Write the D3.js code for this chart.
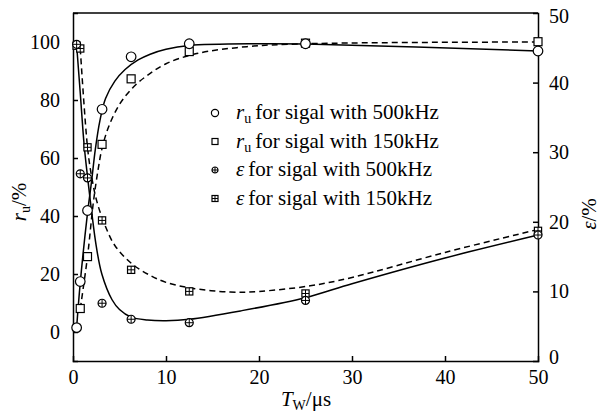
<!DOCTYPE html>
<html>
<head>
<meta charset="utf-8">
<script src="https://cdn.jsdelivr.net/npm/d3@7"></script>
</head>
<body style="margin:0">
<svg id="chart" width="607" height="415"></svg>
<script>
// measured points (x = T_W in µs)
const xPts = [0.39, 0.78, 1.56, 3.125, 6.25, 12.5, 25, 50];
const ru500 = [1.5, 17.4, 41.9, 76.8, 94.9, 99.4, 99.4, 96.9];
const ru150 = [null, 8.1, 26, 64.7, 87.3, 96.7, 99.6, 100.1];
const eps500 = [45.5, 26.9, 26.3, 8.3, 6.0, 5.5, 8.7, 18.1];
const eps150 = [45.3, 44.9, 30.7, 20.2, 13.1, 10.0, 9.7, 18.7];

// fitted curves
const fitRu500X = [0.39, 0.78, 1.56, 2.0, 2.4, 2.9, 3.5, 4.5, 5.6, 7, 8.3, 10, 12.5, 20, 25, 50];
const fitRu500Y = [1.5, 17, 41, 52, 63, 73, 80.5, 86.5, 90.5, 93.8, 95.8, 97.5, 98.8, 99.4, 99.3, 96.9];
const fitRu150X = [0.78, 1.56, 2.2, 2.7, 3.1, 3.8, 5, 6.5, 8, 10, 13.3, 18.7, 25, 50];
const fitRu150Y = [8, 26, 45, 56, 63, 70.5, 78.5, 84.5, 88.5, 92.5, 96, 98.4, 99.4, 100];
const fitEps500X = [0.39, 0.78, 1.2, 1.56, 2.0, 2.5, 3.1, 4.2, 5, 6.25, 8, 10, 12.5, 18, 25, 30, 40, 50];
const fitEps500Y = [45.4, 38.5, 31, 26.5, 21.5, 16.5, 12.5, 8.8, 7.4, 6.3, 5.9, 5.8, 6.0, 7.2, 9.1, 11.1, 14.8, 18.1];
const fitEps150X = [0.78, 1.56, 2.0, 2.55, 3.44, 4.5, 6.3, 8.3, 10, 12.6, 16.9, 20, 25.5, 30, 40, 50];
const fitEps150Y = [44.9, 30.7, 26.5, 23, 19.5, 16.6, 14.0, 12.3, 11.3, 10.5, 9.9, 10.0, 10.8, 12, 15.6, 18.9];

const xTicks = [0, 10, 20, 30, 40, 50];
const yLeftTicks = [0, 20, 40, 60, 80, 100];
const yRightTicks = [0, 10, 20, 30, 40, 50];
const legendLabels = ["for sigal with 500kHz", "for sigal with 150kHz", "for sigal with 500kHz", "for sigal with 150kHz"];

const FONT = '"Liberation Serif"';

const margin = { top: 13, right: 69, bottom: 54, left: 73 };
const width = 607 - margin.left - margin.right;
const height = 415 - margin.top - margin.bottom;

const svg = d3.select("#chart").style("font-family", FONT);
const g = svg.append("g").attr("transform", `translate(${margin.left},${margin.top})`);

const x = d3.scaleLinear().domain([0, 50]).range([0, width]);
const yL = d3.scaleLinear().domain([-10, 110]).range([height, 0]);
const yR = d3.scaleLinear().domain([0, 50]).range([height, 0]);

// axes, ticks inward
const xAxis = g.append("g").attr("transform", `translate(0,${height})`)
    .call(d3.axisBottom(x).tickValues(xTicks).tickSize(-5).tickPadding(9));
const leftAxis = g.append("g").call(d3.axisLeft(yL).tickValues(yLeftTicks).tickSize(-5).tickPadding(13));
const rightAxis = g.append("g").attr("transform", `translate(${width},0)`)
    .call(d3.axisRight(yR).tickValues(yRightTicks).tickSize(-5).tickPadding(11));

[xAxis, leftAxis, rightAxis].forEach(a => {
    a.attr("font-family", "Liberation Serif").attr("font-size", 20);
    a.select(".domain").attr("stroke-width", 1.5);
    a.selectAll(".tick line").attr("stroke-width", 1.5);
    a.selectAll(".tick text").style("font-size", "20px").style("font-family", FONT);
});
// hide ticks at the ends (they coincide with the frame)
xAxis.selectAll(".tick line").filter(d => d === 0 || d === 50).remove();
rightAxis.selectAll(".tick line").filter(d => d === 0 || d === 50).remove();
rightAxis.selectAll(".tick text").filter(d => d === 0).attr("dy", "0.1em");
rightAxis.selectAll(".tick text").filter(d => d === 50).attr("dy", "0.45em");

// top frame
g.append("line").attr("x1", 0).attr("x2", width).attr("y1", 0).attr("y2", 0)
    .attr("stroke", "#000").attr("stroke-width", 1.5);

// curves
const curves = [
    { xs: fitRu500X, ys: fitRu500Y, y: yL, dash: null },
    { xs: fitRu150X, ys: fitRu150Y, y: yL, dash: "6 4" },
    { xs: fitEps500X, ys: fitEps500Y, y: yR, dash: null },
    { xs: fitEps150X, ys: fitEps150Y, y: yR, dash: "6 4" }
];
curves.forEach(c => {
    const line = d3.line().x(d => x(d[0])).y(d => c.y(d[1])).curve(d3.curveCatmullRom.alpha(0.5));
    g.append("path")
        .datum(c.xs.map((v, i) => [v, c.ys[i]]))
        .attr("d", line)
        .attr("fill", "none")
        .attr("stroke", "#000")
        .attr("stroke-width", 1.5)
        .attr("stroke-dasharray", c.dash);
});

// marker drawing
function marker(sel, type, cx, cy, s) {
    const m = sel.append("g").attr("transform", `translate(${cx},${cy})`);
    if (type === "circle" || type === "circlePlus") {
        m.append("circle").attr("r", s).attr("fill", "#fff").attr("stroke", "#000").attr("stroke-width", 1.2);
    } else {
        m.append("rect").attr("x", -s).attr("y", -s).attr("width", 2 * s).attr("height", 2 * s)
            .attr("fill", "#fff").attr("stroke", "#000").attr("stroke-width", 1.2);
    }
    if (type === "circlePlus" || type === "squarePlus") {
        m.append("line").attr("x1", -s).attr("x2", s).attr("stroke", "#000").attr("stroke-width", 1);
        m.append("line").attr("y1", -s).attr("y2", s).attr("stroke", "#000").attr("stroke-width", 1);
    }
}

const pointSets = [
    { vals: eps150, y: yR, type: "squarePlus", s: 3.6 },
    { vals: eps500, y: yR, type: "circlePlus", s: 4 },
    { vals: ru150, y: yL, type: "square", s: 4 },
    { vals: ru500, y: yL, type: "circle", s: 4.8 }
];
pointSets.forEach(p => {
    p.vals.forEach((v, i) => {
        if (v === null) return;
        marker(g, p.type, x(xPts[i]), p.y(v), p.s);
    });
});

// legend
const legendTypes = ["circle", "square", "circlePlus", "squarePlus"];
const legendSym = ["ru", "ru", "eps", "eps"];
const legend = svg.append("g");
legendTypes.forEach((t, i) => {
    const cy = 113 + i * 28.5;
    marker(legend, t, 215, cy, t === "circle" ? 3.6 : 3);
    const txt = legend.append("text").attr("x", 236).attr("y", cy + 6)
        .style("font-size", "21px").style("font-family", FONT);
    if (legendSym[i] === "ru") {
        txt.append("tspan").style("font-style", "italic").text("r");
        txt.append("tspan").attr("dy", 4).style("font-size", "14px").text("u");
        txt.append("tspan").attr("dy", -4).attr("dx", 4).text(legendLabels[i]);
    } else {
        txt.append("tspan").style("font-style", "italic").text("ε");
        txt.append("tspan").attr("dx", 4).text(legendLabels[i]);
    }
});

// axis titles
const xt = svg.append("text").attr("x", 306).attr("y", 406).attr("text-anchor", "middle")
    .style("font-size", "21px").style("font-family", FONT);
xt.append("tspan").style("font-style", "italic").text("T");
xt.append("tspan").attr("dy", 4).style("font-size", "14px").text("W");
xt.append("tspan").attr("dy", -4).text("/μs");

const yt = svg.append("text").attr("transform", "translate(26,202) rotate(-90)").attr("text-anchor", "middle")
    .style("font-size", "21px").style("font-family", FONT);
yt.append("tspan").style("font-style", "italic").text("r");
yt.append("tspan").attr("dy", 4).style("font-size", "14px").text("u");
yt.append("tspan").attr("dy", -4).text("/%");

const yt2 = svg.append("text").attr("transform", "translate(596,214) rotate(-90)").attr("text-anchor", "middle")
    .style("font-size", "21px").style("font-family", FONT);
yt2.append("tspan").style("font-style", "italic").text("ε");
yt2.append("tspan").text("/%");
</script>
</body>
</html>
